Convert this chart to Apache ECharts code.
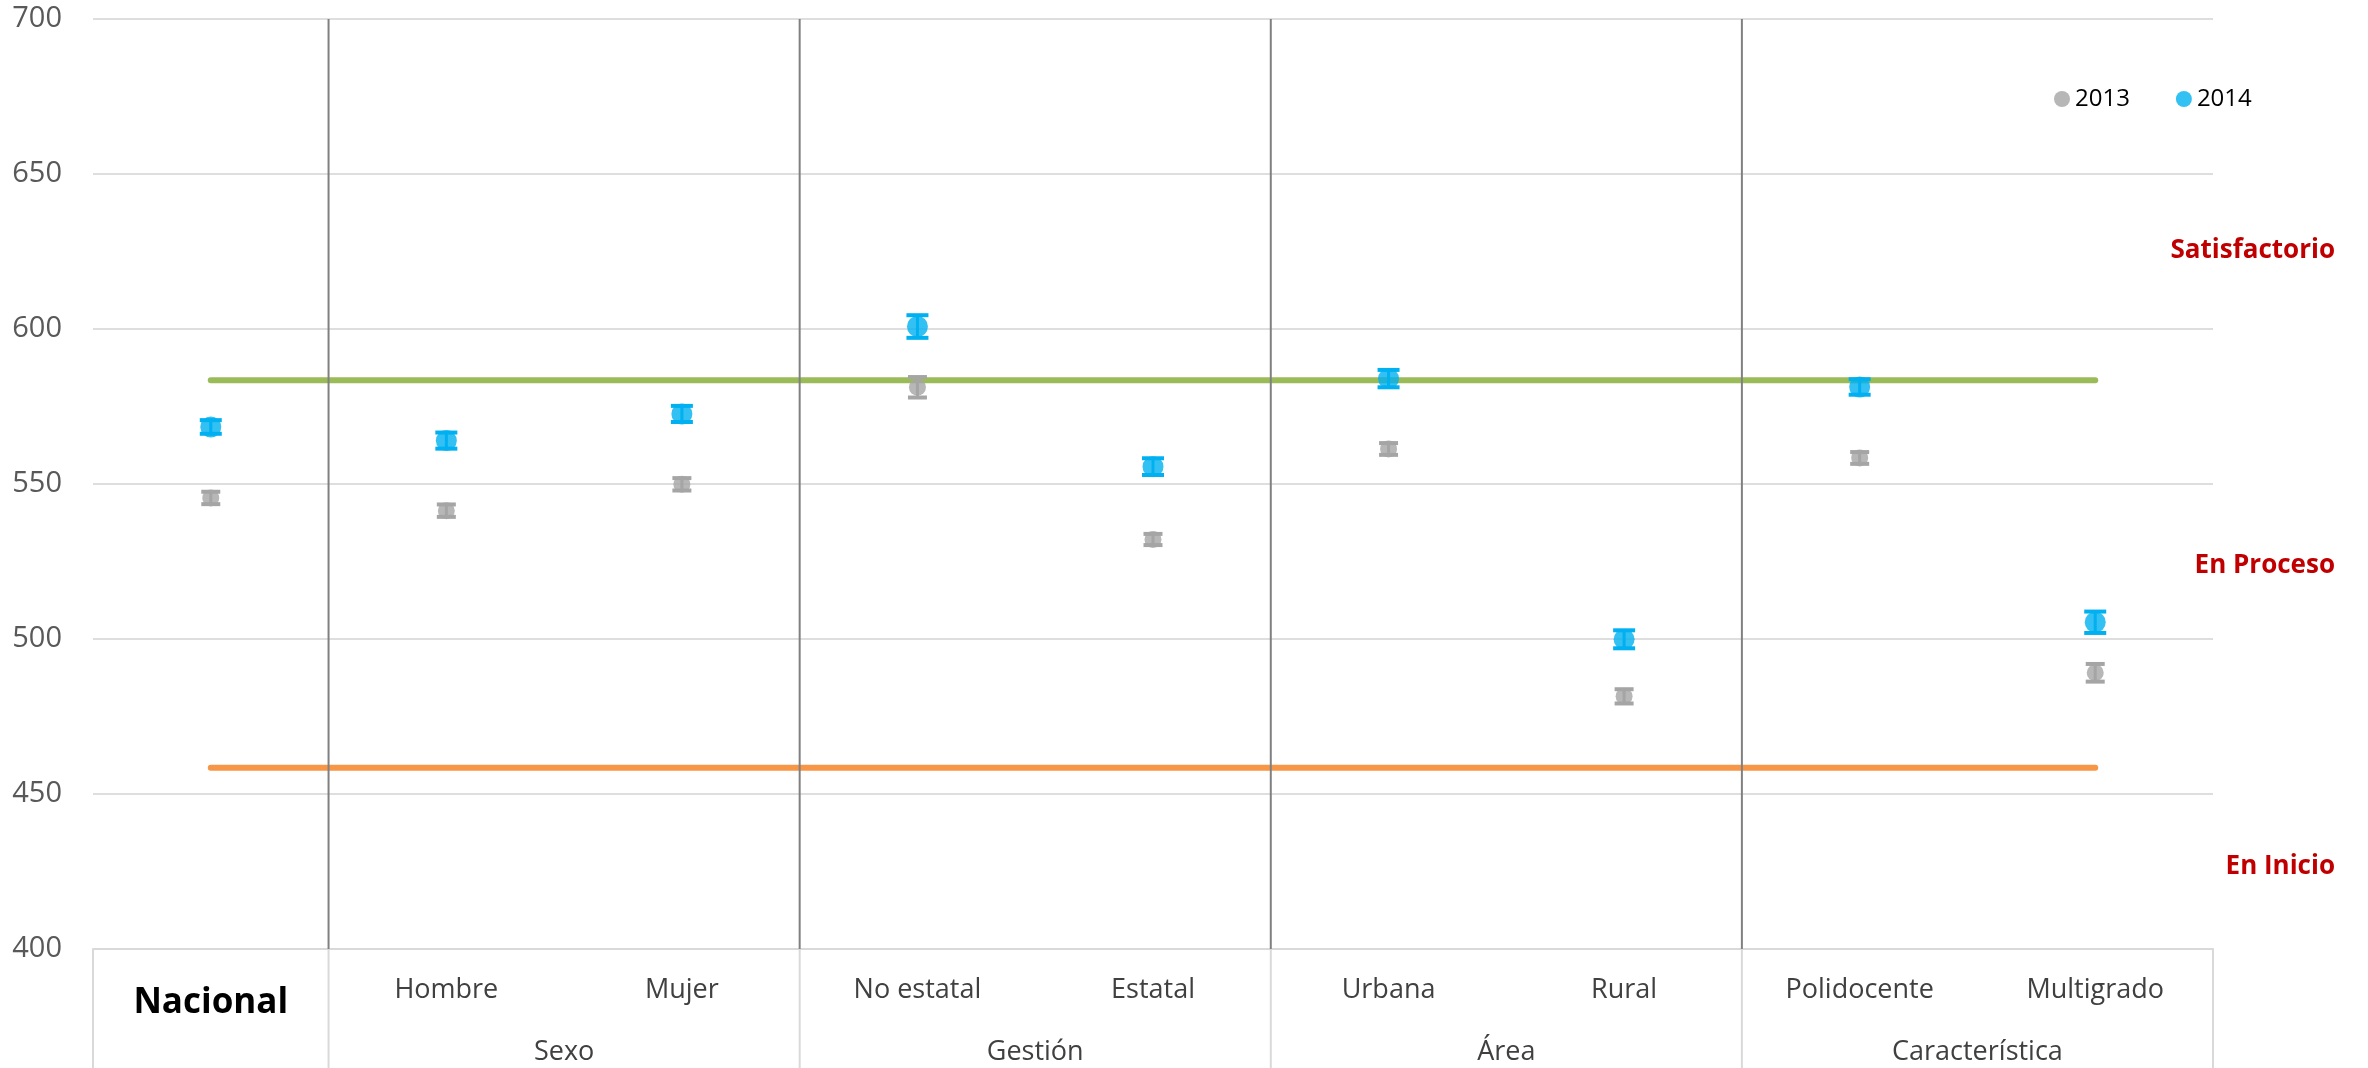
<!DOCTYPE html>
<html><head><meta charset="utf-8">
<script src="https://cdn.jsdelivr.net/npm/echarts@6/dist/echarts.min.js"></script>
<style>html,body{margin:0;padding:0;background:#fff}#c{width:2368px;height:1068px}</style>
</head><body><div id="c"></div>
<script>
// ---- data ----
const categories = ['Nacional','Hombre','Mujer','No estatal','Estatal','Urbana','Rural','Polidocente','Multigrado'];
const groupNames = ['Sexo','Gestión','Área','Característica'];
const groupFirst = [1, 3, 5, 7];   // index of first category of each group
const groupLast  = [2, 4, 6, 8];   // index of last category of each group
const values2013 = [545.5, 541.4, 549.9, 581.2, 532.1, 561.3, 481.5, 558.4, 489.1];
const err2013    = [2.0, 2.0, 2.0, 3.3, 1.8, 1.9, 2.3, 1.9, 2.85];
const values2014 = [568.4, 564.0, 572.6, 600.8, 555.6, 584.0, 499.9, 581.3, 505.4];
const err2014    = [2.2, 2.6, 2.6, 3.65, 2.7, 2.8, 2.9, 2.5, 3.45];
const satisfactorioCut = 583.5;
const enInicioCut = 458.5;
const yMin = 400, yMax = 700, yStep = 50;
const levelLabels = ['Satisfactorio', 'En Proceso', 'En Inicio'];

// ---- chart ----
const chart = echarts.init(document.getElementById('c'), null, {renderer: 'canvas'});
const FONT = '"Open Sans", "Noto Sans", sans-serif';
const GRAY = '#A5A5A5', BLUE = '#00B0F0';

const groupCenters = groupFirst.map((f, i) => (f + groupLast[i] + 1) / 2);
const sepBounds = groupFirst.slice();
const tableBounds = [0].concat(groupFirst, [categories.length]);

function errSeries(vals, errs, color, capW) {
  return {
    type: 'custom', xAxisIndex: 0, yAxisIndex: 0, silent: true, z: 4,
    data: vals.map((v, i) => [i, v, errs[i]]),
    encode: {x: 0, y: 1},
    renderItem: function (params, api) {
      const c = api.value(0), v = api.value(1), e = api.value(2);
      const hi = api.coord([c, v + e]);
      const lo = api.coord([c, v - e]);
      const x = hi[0];
      return {
        type: 'group', children: [
          {type: 'line', shape: {x1: x, y1: hi[1], x2: x, y2: lo[1]}, style: {stroke: color, lineWidth: 3}},
          {type: 'rect', shape: {x: x - capW / 2, y: hi[1] - 2, width: capW, height: 4}, style: {fill: color}},
          {type: 'rect', shape: {x: x - capW / 2, y: lo[1] - 2, width: capW, height: 4}, style: {fill: color}}
        ]
      };
    }
  };
}

const option = {
  animation: false,
  textStyle: {fontFamily: FONT},
  grid: {left: 93, right: 155, top: 19, bottom: 119, containLabel: false},
  legend: {
    data: ['2013', '2014'], left: 2049, top: 82, icon: 'circle',
    itemWidth: 16, itemHeight: 16, itemGap: 46,
    textStyle: {fontSize: 24, color: '#000', fontFamily: FONT}
  },
  xAxis: [
    {
      type: 'category', data: categories, boundaryGap: true,
      axisLine: {show: true, lineStyle: {color: '#d9d9d9', width: 2}},
      axisTick: {show: false},
      splitLine: {show: false},
      axisLabel: {
        interval: 0, margin: 41, verticalAlign: 'middle',
        formatter: (v, i) => i === 0 ? '{b|' + v + '}' : '{a|' + v + '}',
        rich: {
          a: {fontSize: 27, color: '#404040', fontFamily: FONT},
          b: {fontSize: 35, color: '#000', fontWeight: 'bold', fontFamily: FONT, padding: [26, 0, 0, 0]}
        }
      }
    },
    {
      type: 'value', min: 0, max: categories.length, interval: 1, position: 'bottom',
      axisLine: {show: false}, axisTick: {show: false}, splitLine: {show: false},
      axisLabel: {
        margin: 103, verticalAlign: 'middle', fontSize: 27, color: '#404040', fontFamily: FONT,
        showMinLabel: true, showMaxLabel: true,
        formatter: v => { const k = groupCenters.indexOf(v); return k >= 0 ? groupNames[k] : ''; }
      }
    }
  ],
  yAxis: {
    type: 'value', min: yMin, max: yMax, interval: yStep,
    axisLine: {show: false}, axisTick: {show: false},
    splitLine: {lineStyle: {color: '#dedede', width: 2}},
    axisLabel: {fontSize: 29, color: '#595959', margin: 31, fontFamily: FONT}
  },
  series: [
    {
      type: 'line', name: 'satisfactorio', silent: true, symbol: 'none', z: 1,
      data: [[categories[0], satisfactorioCut], [categories[categories.length - 1], satisfactorioCut]],
      lineStyle: {color: '#9BBB59', width: 6, cap: 'round'}
    },
    {
      type: 'line', name: 'inicio', silent: true, symbol: 'none', z: 1,
      data: [[categories[0], enInicioCut], [categories[categories.length - 1], enInicioCut]],
      lineStyle: {color: '#F79646', width: 6, cap: 'round'}
    },
    {
      type: 'custom', xAxisIndex: 1, yAxisIndex: 0, silent: true, z: 2, clip: false,
      data: sepBounds.map(b => [b, yMax]),
      encode: {x: 0, y: 1},
      renderItem: function (params, api) {
        const b = api.value(0);
        const t = api.coord([b, yMax]), bt = api.coord([b, yMin]);
        return {type: 'line', shape: {x1: t[0], y1: t[1], x2: bt[0], y2: bt[1]}, style: {stroke: '#808080', lineWidth: 2}};
      }
    },
    {
      type: 'custom', xAxisIndex: 1, yAxisIndex: 0, silent: true, z: 2, clip: false,
      data: tableBounds.map(b => [b, yMin]),
      encode: {x: 0, y: 1},
      renderItem: function (params, api) {
        const b = api.value(0);
        const p = api.coord([b, yMin]);
        return {type: 'line', shape: {x1: p[0], y1: p[1], x2: p[0], y2: api.getHeight()}, style: {stroke: '#d9d9d9', lineWidth: 2}};
      }
    },
    {
      type: 'scatter', name: '2013', data: values2013, symbol: 'circle', symbolSize: 17, z: 3,
      itemStyle: {color: GRAY}
    },
    {
      type: 'scatter', name: '2014', data: values2014, symbol: 'circle', symbolSize: 21, z: 3,
      itemStyle: {color: BLUE}
    },
    errSeries(values2013, err2013, GRAY, 19),
    errSeries(values2014, err2014, BLUE, 22)
  ],
  graphic: [
    {type: 'text', x: 2335, y: 251, silent: true, style: {text: levelLabels[0], fill: '#C00000', font: 'bold 26px ' + FONT, align: 'right', verticalAlign: 'middle'}},
    {type: 'text', x: 2335, y: 566, silent: true, style: {text: levelLabels[1], fill: '#C00000', font: 'bold 26px ' + FONT, align: 'right', verticalAlign: 'middle'}},
    {type: 'text', x: 2335, y: 867, silent: true, style: {text: levelLabels[2], fill: '#C00000', font: 'bold 26px ' + FONT, align: 'right', verticalAlign: 'middle'}}
  ]
};
chart.setOption(option);
</script>
</body></html>
